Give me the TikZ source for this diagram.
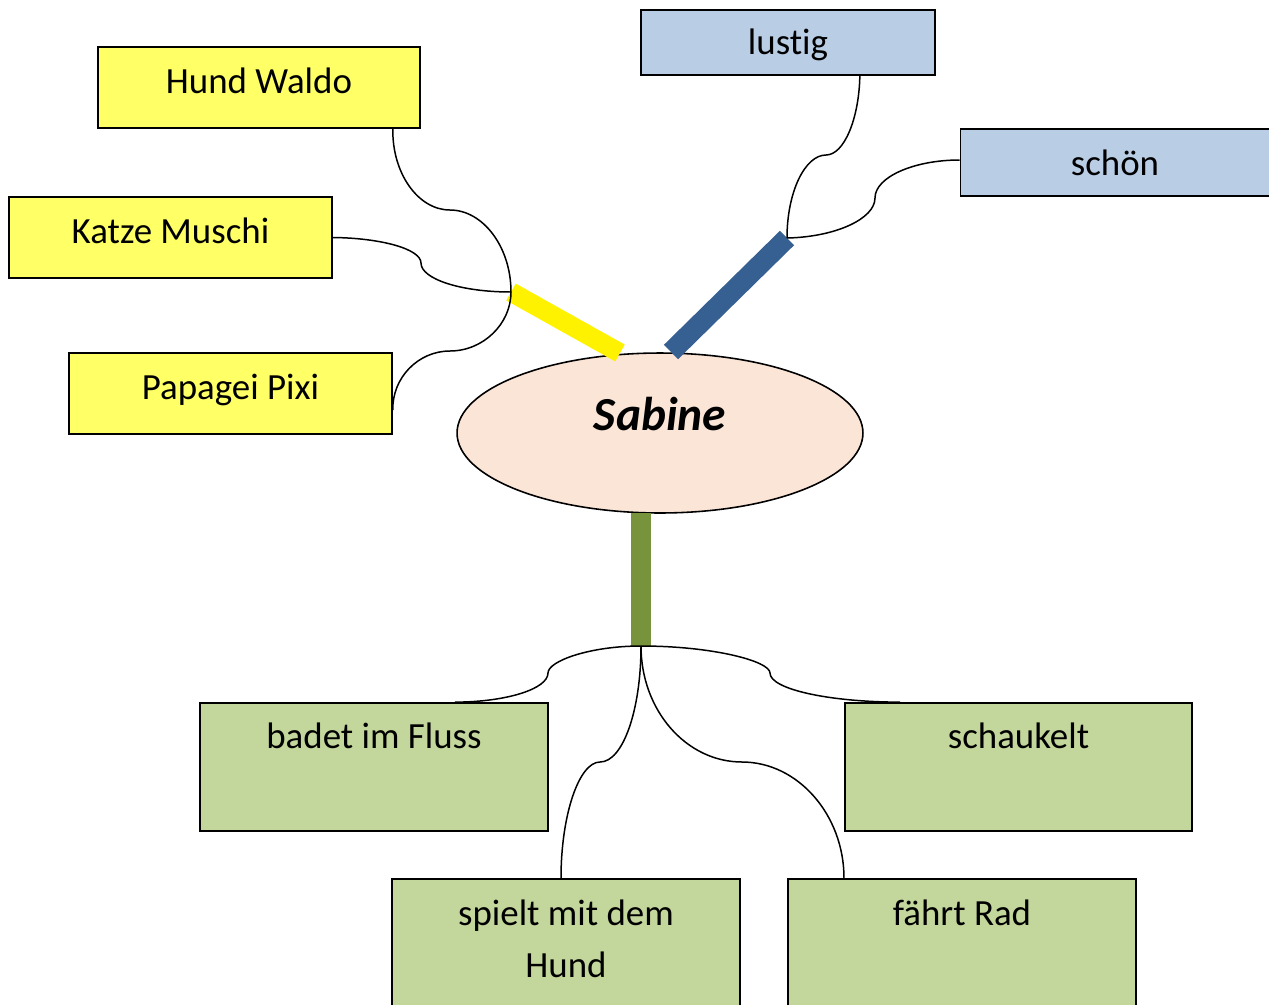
\documentclass[tikz,border=0pt]{standalone}
\usepackage{fontspec}
\setmainfont{Carlito}[Ligatures={NoCommon,NoContextual,NoRequired}]
\usetikzlibrary{shapes.geometric,calc}

\definecolor{gelb}{HTML}{FFFF66}
\definecolor{hellblau}{HTML}{B9CDE5}
\definecolor{hellgruen}{HTML}{C3D69B}
\definecolor{haut}{HTML}{FBE5D6}
\definecolor{dunkelblau}{HTML}{376092}
\definecolor{oliv}{HTML}{77933C}

\begin{document}
\begin{tikzpicture}[x=0.02cm,y=-0.02cm,
  kasten/.style={draw, line width=1pt, inner sep=0pt},
  schrift/.style={anchor=base, align=center, font=\fontsize{21}{29.5}\selectfont},
  bogen/.style={line width=0.85pt},
  balken/.style={line width=11.5pt}]
\useasboundingbox (0,0) rectangle (1269,1005);

\node[kasten, fill=gelb, minimum width=6.44cm, minimum height=1.62cm] (hund) at (259,87.5) {};
\node[schrift] (hundT) at (259,93) {Hund Waldo};
\node[kasten, fill=gelb, minimum width=6.46cm, minimum height=1.62cm] (katze) at (170.5,237.5) {};
\node[schrift] (katzeT) at (170.5,243) {Katze Muschi};
\node[kasten, fill=gelb, minimum width=6.46cm, minimum height=1.62cm] (papagei) at (230.5,393.5) {};
\node[schrift] (papageiT) at (230.5,399) {Papagei Pixi};

\node[kasten, fill=hellblau, minimum width=5.88cm, minimum height=1.3cm] (lustig) at (788,42.5) {};
\node[schrift] (lustigT) at (788,54.5) {lustig};
\node[kasten, fill=hellblau, minimum width=6.18cm, minimum height=1.34cm] (schoen) at (1115,162.5) {};
\node[schrift] (schoenT) at (1115,175) {schön};

\node[kasten, fill=hellgruen, minimum width=6.96cm, minimum height=2.56cm] (badet) at (374,767) {};
\node[schrift] (badetT) at (374,748) {badet im Fluss};
\node[kasten, fill=hellgruen, minimum width=6.94cm, minimum height=2.56cm] (schaukelt) at (1018.5,767) {};
\node[schrift] (schaukeltT) at (1018.5,748) {schaukelt};
\node[kasten, fill=hellgruen, minimum width=6.96cm, minimum height=2.56cm] (spielt) at (566,943) {};
\node[schrift] (spieltT) at (566,977) {spielt mit dem\\Hund};
\node[kasten, fill=hellgruen, minimum width=6.96cm, minimum height=2.56cm] (faehrt) at (962,943) {};
\node[schrift] (faehrtT) at (962,925) {fährt Rad};

\node[ellipse, draw, line width=0.9pt, fill=haut, inner sep=0pt,
  minimum width=8.12cm, minimum height=3.2cm] (sabine) at (660,433) {};
\node[anchor=base, font=\fontsize{27}{32}\selectfont\bfseries\itshape] (sabineT) at (660,430) {Sabine};

\coordinate (hubL) at (511,292);
\coordinate (hubR) at (787,238);
\coordinate (hubU) at (641,646);
\coordinate (gelbFuss) at (620,353);
\coordinate (blauFuss) at (671,352);
\coordinate (gruenFuss) at (641,513);

\draw[balken, line width=11pt, yellow] (gelbFuss) -- (hubL);
\draw[balken, dunkelblau] (blauFuss) -- (hubR);
\draw[balken, oliv] (gruenFuss) -- (hubU);

\draw[bogen] (hubL) .. controls (511,247) and (483,210) .. (450,210)
  .. controls (418,210) and (392,173) .. ($(hund.south east)+(-28,0)$);
\draw[bogen] (hubL) .. controls (461,292) and (421,279) .. (421,263)
  .. controls (421,249) and (381,238) .. (katze.east);
\draw[bogen] (hubL) .. controls (511,324) and (483,351) .. (450,351)
  .. controls (418,351) and (392,378) .. ($(papagei.east)+(0,16.5)$);

\draw[bogen] (hubR) .. controls (787,192) and (805,155) .. (826,155)
  .. controls (844,155) and (859,119) .. ($(lustig.south east)+(-76,0)$);
\draw[bogen] (hubR) .. controls (835,237) and (875,219) .. (875,198)
  .. controls (875,177) and (914,160) .. ($(schoen.west)+(0,-2.5)$);

\draw[bogen] (hubU) .. controls (590,646) and (548,661) .. (548,673)
  .. controls (548,689) and (506,702) .. ($(badet.north)+(81,0)$);
\draw[bogen] (hubU) .. controls (712,646) and (770,661) .. (770,673)
  .. controls (770,689) and (828,702) .. ($(schaukelt.north)+(-118.5,0)$);
\draw[bogen] (hubU) .. controls (641,710) and (623,762) .. (600,762)
  .. controls (579,762) and (561,815) .. ($(spielt.north)+(-5,0)$);
\draw[bogen] (hubU) .. controls (641,710) and (686,762) .. (742,762)
  .. controls (798,762) and (844,815) .. ($(faehrt.north)+(-118,0)$);
\end{tikzpicture}
\end{document}
